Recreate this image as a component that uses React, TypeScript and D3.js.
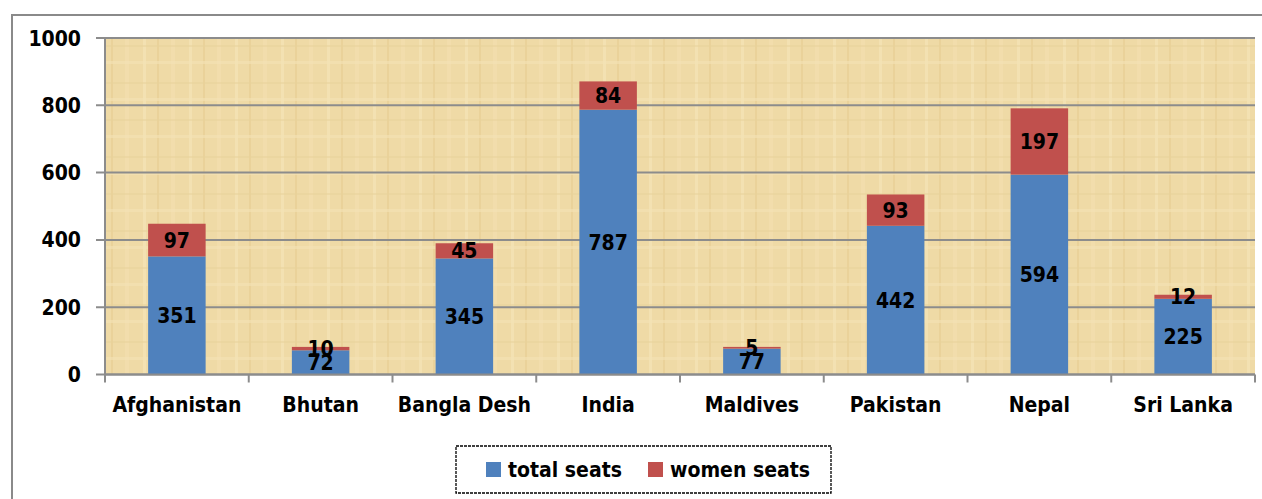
import React from "react";
import * as d3 from "d3";

const categories = ["Afghanistan", "Bhutan", "Bangla Desh", "India", "Maldives", "Pakistan", "Nepal", "Sri Lanka"];
const totalSeats = [351, 72, 345, 787, 77, 442, 594, 225];
const womenSeats = [97, 10, 45, 84, 5, 93, 197, 12];
const yTicks = [0, 200, 400, 600, 800, 1000];
const seriesNames = ["total seats", "women seats"];
const colors = ["#4F81BD", "#C0504D"];

const W = 1262;
const H = 499;
const plot = { left: 105, right: 1255, top: 38, bottom: 374.5 };
const FONT = "'DejaVu Sans Condensed', 'DejaVu Sans', sans-serif";

export default function App() {
  const x = d3.scaleBand<string>().domain(categories).range([plot.left, plot.right]).paddingInner(0.6).paddingOuter(0.3);
  const xb = d3.scaleBand<string>().domain(categories).range([plot.left, plot.right]);
  const y = d3.scaleLinear().domain([0, 1000]).range([plot.bottom, plot.top]);

  const rows = categories.map((c, i) => ({ c, total: totalSeats[i], women: womenSeats[i] }));
  const stack = d3.stack<any>().keys(["total", "women"])(rows as any);

  const boundaries = categories.map((c) => xb(c)!).concat([plot.right]);

  return (
    <svg width={W} height={H} style={{ position: "absolute", left: 0, top: 0, background: "#fff" }}>
      <defs>
        <pattern id="papyrus" width="46" height="37" patternUnits="userSpaceOnUse">
          <rect width="46" height="37" fill="#EFDAA6" />
          <rect x="5" width="3" height="37" fill="#F5E4B8" opacity="0.7" />
          <rect x="19" width="2" height="37" fill="#E6CD92" opacity="0.6" />
          <rect x="33" width="4" height="37" fill="#F3E0B0" opacity="0.6" />
          <rect y="8" width="46" height="2" fill="#E8D19A" opacity="0.5" />
          <rect y="24" width="46" height="3" fill="#F4E3B6" opacity="0.6" />
        </pattern>
      </defs>
      <rect x={12} y={15} width={1280} height={520} fill="#fff" stroke="#8A8A8A" strokeWidth={2} />
      <rect x={plot.left} y={plot.top} width={plot.right - plot.left} height={plot.bottom - plot.top} fill="url(#papyrus)" />
      {yTicks.map((t) => (
        <g key={t}>
          <line x1={96} x2={plot.right} y1={y(t)} y2={y(t)} stroke="#8C8C8C" strokeWidth={2} />
          <text x={81} y={y(t)} dy="0.36em" textAnchor="end" fontFamily={FONT} fontWeight="bold" fontSize={21} fill="#000">
            {t}
          </text>
        </g>
      ))}
      <line x1={plot.left} x2={plot.left} y1={plot.top} y2={plot.bottom} stroke="#8C8C8C" strokeWidth={2} />
      {boundaries.map((b, i) => (
        <line key={i} x1={b} x2={b} y1={plot.bottom} y2={plot.bottom + 8} stroke="#8C8C8C" strokeWidth={2} />
      ))}
      {stack.map((s, si) =>
        s.map((d, i) => (
          <rect
            key={si + "-" + i}
            x={x(categories[i])}
            width={x.bandwidth()}
            y={y(d[1])}
            height={y(d[0]) - y(d[1])}
            fill={colors[si]}
          />
        ))
      )}
      <line x1={plot.left} x2={plot.right} y1={plot.bottom} y2={plot.bottom} stroke="#8C8C8C" strokeWidth={2} />
      {stack.map((s, si) =>
        s.map((d, i) => (
          <text
            key={"l" + si + "-" + i}
            x={x(categories[i])! + x.bandwidth() / 2}
            y={(y(d[0]) + y(d[1])) / 2}
            dy="0.36em"
            textAnchor="middle"
            fontFamily={FONT}
            fontWeight="bold"
            fontSize={21}
            fill="#000"
          >
            {si === 0 ? totalSeats[i] : womenSeats[i]}
          </text>
        ))
      )}
      {categories.map((c) => (
        <text key={c} x={xb(c)! + xb.bandwidth() / 2} y={412} textAnchor="middle" fontFamily={FONT} fontWeight="bold" fontSize={21} fill="#000">
          {c}
        </text>
      ))}
      <rect x={456} y={446} width={375} height={47} fill="#fff" stroke="#000" strokeWidth={1.3} strokeDasharray="3 1" />
      {seriesNames.map((n, i) => {
        const lx = [486, 648][i];
        return (
          <g key={n}>
            <rect x={lx} y={462} width={15} height={15} fill={colors[i]} />
            <text x={lx + 22} y={477} fontFamily={FONT} fontWeight="bold" fontSize={21} fill="#000">
              {n}
            </text>
          </g>
        );
      })}
    </svg>
  );
}
